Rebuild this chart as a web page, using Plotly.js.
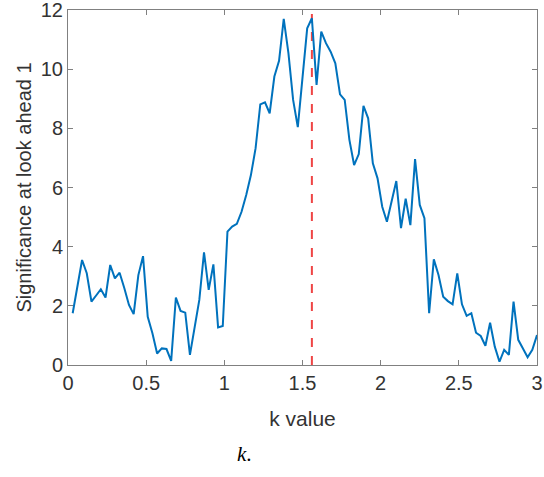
<!DOCTYPE html>
<html>
<head>
<meta charset="utf-8">
<script src="https://cdn.plot.ly/plotly-3.0.1.min.js"></script>
<style>html,body{margin:0;padding:0;background:#fff;}#chart{width:544px;height:477px;}</style>
</head>
<body>
<div id="chart"></div>
<script>
// k values (step 0.03)
const kValues = [0.03,0.06,0.09,0.12,0.15,0.18,0.21,0.24,0.27,0.30,
  0.33,0.36,0.39,0.42,0.45,0.48,0.51,0.54,0.57,0.60,
  0.63,0.66,0.69,0.72,0.75,0.78,0.81,0.84,0.87,0.90,
  0.93,0.96,0.99,1.02,1.05,1.08,1.11,1.14,1.17,1.20,
  1.23,1.26,1.29,1.32,1.35,1.38,1.41,1.44,1.47,1.50,
  1.53,1.56,1.59,1.62,1.65,1.68,1.71,1.74,1.77,1.80,
  1.83,1.86,1.89,1.92,1.95,1.98,2.01,2.04,2.07,2.10,
  2.13,2.16,2.19,2.22,2.25,2.28,2.31,2.34,2.37,2.40,
  2.43,2.46,2.49,2.52,2.55,2.58,2.61,2.64,2.67,2.70,
  2.73,2.76,2.79,2.82,2.85,2.88,2.91,2.94,2.97,3.00];
// significance at look ahead 1
const significance = [1.75,2.65,3.55,3.10,2.14,2.35,2.56,2.28,3.38,2.93,
  3.12,2.60,2.03,1.72,3.04,3.68,1.63,1.07,0.39,0.56,
  0.54,0.14,2.28,1.83,1.77,0.34,1.35,2.20,3.81,2.54,
  3.40,1.27,1.32,4.51,4.68,4.77,5.18,5.75,6.42,7.33,
  8.81,8.88,8.51,9.75,10.28,11.70,10.54,8.96,8.04,9.63,
  11.38,11.72,9.47,11.27,10.88,10.59,10.20,9.15,8.96,7.61,
  6.76,7.13,8.76,8.34,6.82,6.31,5.35,4.84,5.52,6.22,
  4.63,5.62,4.73,6.96,5.41,4.96,1.75,3.57,3.04,2.31,
  2.16,2.05,3.10,2.05,1.66,1.75,1.09,0.98,0.65,1.43,
  0.62,0.11,0.51,0.34,2.14,0.85,0.56,0.26,0.51,1.01];
// best k marker
const bestK = [1.56, 1.56];
const bestKSpan = [0, 12];
const xTickVals = [0, 0.5, 1, 1.5, 2, 2.5, 3];
const xTickText = ["0", "0.5", "1", "1.5", "2", "2.5", "3"];
const yTickVals = [0, 2, 4, 6, 8, 10, 12];
const yTickText = ["0", "2", "4", "6", "8", "10", "12"];

const font = "Liberation Sans, Arial, sans-serif";
const textColor = "#333333";
const frameColor = "#808080";

const traces = [
  {x: bestK, y: bestKSpan, type: "scatter", mode: "lines",
   line: {color: "#EF4545", width: 2, dash: "dash"}, showlegend: false, hoverinfo: "skip"},
  {x: kValues, y: significance, type: "scatter", mode: "lines",
   line: {color: "#0072BD", width: 2}, showlegend: false, hoverinfo: "skip"}
];

const layout = {
  width: 544, height: 477,
  margin: {l: 68, r: 7, t: 10, b: 112},
  paper_bgcolor: "#fff", plot_bgcolor: "#fff",
  font: {family: font, size: 20, color: textColor},
  xaxis: {
    range: [0, 3], tickvals: xTickVals, ticktext: xTickText,
    showgrid: false, zeroline: false, showline: true, mirror: "ticks",
    linecolor: frameColor, linewidth: 1, ticks: "inside", ticklen: 5,
    tickcolor: frameColor, tickfont: {family: font, size: 20, color: textColor},
    ticklabeloverflow: "allow",
    title: {text: "k value", font: {family: font, size: 21, color: textColor}, standoff: 18},
    automargin: false
  },
  yaxis: {
    range: [0, 12], tickvals: yTickVals, ticktext: yTickText,
    showgrid: false, zeroline: false, showline: true, mirror: "ticks",
    linecolor: frameColor, linewidth: 1, ticks: "inside", ticklen: 5,
    tickcolor: frameColor, tickfont: {family: font, size: 20, color: textColor},
    ticklabeloverflow: "allow",
    title: {text: "Significance at look ahead 1", font: {family: font, size: 20, color: textColor}, standoff: 3},
    automargin: false
  },
  annotations: [{
    text: "<i>k</i>.", xref: "paper", yref: "paper", x: 0.377, y: -0.25,
    xanchor: "center", yanchor: "middle", showarrow: false,
    font: {family: "Liberation Serif, Times New Roman, serif", size: 21, color: "#000"}
  }]
};

Plotly.newPlot("chart", traces, layout, {staticPlot: true, displayModeBar: false});
</script>
</body>
</html>
